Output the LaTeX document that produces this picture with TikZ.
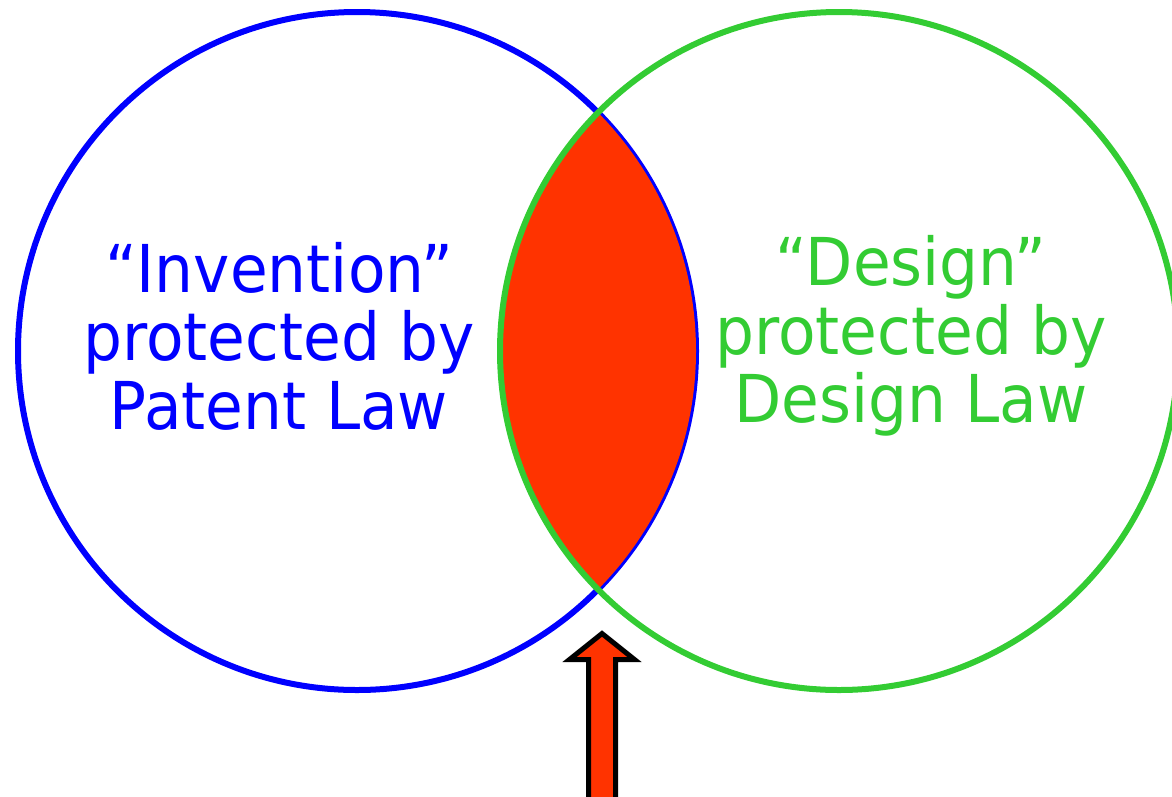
\documentclass[tikz,border=0pt]{standalone}
\usepackage{fontspec}
\setmainfont{DejaVu Sans}
\newfontfamily\lblfont[FakeStretch=0.93]{DejaVu Sans}
\usetikzlibrary{positioning}
\definecolor{patentblue}{HTML}{0000FF}
\definecolor{designgreen}{HTML}{33CC33}
\definecolor{overlapred}{HTML}{FF3300}

\begin{document}
\begin{tikzpicture}[x=1pt, y=-1pt,
  ring/.style={line width=6pt},
  lbl/.style={font=\lblfont\fontsize{66}{68.5}\selectfont, align=center, inner sep=0pt},
]
  \useasboundingbox (0,0) rectangle (1172,796);
  \clip (0,0) rectangle (1172,796);

  % Circle centres
  \coordinate (patent) at (357,351);
  \coordinate (design) at (839,351);

  % Patent circle, overlap, design circle
  \draw[ring, patentblue] (patent) circle[radius=339];
  \begin{scope}
    \clip (patent) circle[radius=339];
    \fill[overlapred] (design) circle[radius=339];
  \end{scope}
  \draw[ring, designgreen] (design) circle[radius=339];

  % Labels
  \node[lbl, text=patentblue] (invention) at (279,336)
    {“Invention”\\protected by\\Patent Law};
  \node[lbl, text=designgreen] (designlbl) at (911,336)
    {“Design”\\protected by\\Design Law};

  % Arrow pointing at the overlap
  \draw[line width=5pt, fill=overlapred, miter limit=10]
    (588.5,810) -- (588.5,659.5) -- (569.5,659.5) -- (602,633.5) -- (634.5,659.5)
    -- (615.5,659.5) -- (615.5,810) -- cycle;
\end{tikzpicture}
\end{document}
